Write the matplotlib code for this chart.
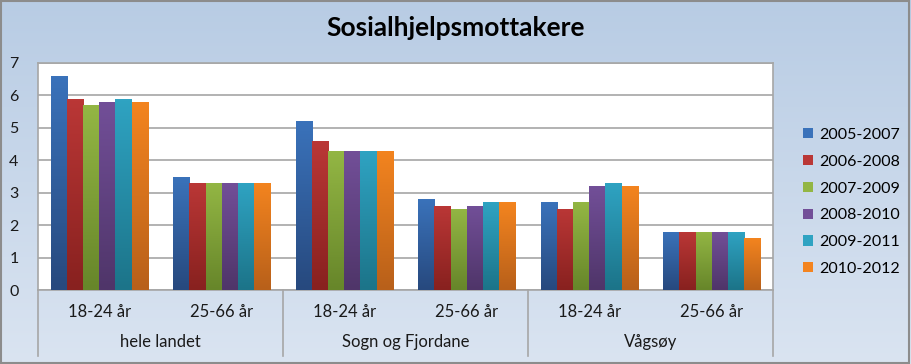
import numpy as np
import matplotlib
matplotlib.use("Agg")
import matplotlib.pyplot as plt
from matplotlib.colors import LinearSegmentedColormap

title = "Sosialhjelpsmottakere"
age_groups = ["18-24 år", "25-66 år", "18-24 år", "25-66 år", "18-24 år", "25-66 år"]
regions = ["hele landet", "Sogn og Fjordane", "Vågsøy"]
periods = ["2005-2007", "2006-2008", "2007-2009", "2008-2010", "2009-2011", "2010-2012"]

v_2005_2007 = [6.6, 3.5, 5.2, 2.8, 2.7, 1.8]
v_2006_2008 = [5.9, 3.3, 4.6, 2.6, 2.5, 1.8]
v_2007_2009 = [5.7, 3.3, 4.3, 2.5, 2.7, 1.8]
v_2008_2010 = [5.8, 3.3, 4.3, 2.6, 3.2, 1.8]
v_2009_2011 = [5.9, 3.3, 4.3, 2.7, 3.3, 1.8]
v_2010_2012 = [5.8, 3.3, 4.3, 2.7, 3.2, 1.6]
series = [v_2005_2007, v_2006_2008, v_2007_2009, v_2008_2010, v_2009_2011, v_2010_2012]

# (top colour, bottom colour) for each series
colors = [("#3A72BA", "#27497E"), ("#BA3736", "#88211F"), ("#93B644", "#67862A"),
          ("#724F98", "#4F3569"), ("#2FA3C2", "#1C7489"), ("#F3841F", "#B8601A")]

plt.rcParams['font.family'] = ['Lato', 'DejaVu Sans']

fig = plt.figure(figsize=(9.11, 3.64), dpi=100)

# background gradient
bg = fig.add_axes([0, 0, 1, 1], zorder=-10)
bg_cmap = LinearSegmentedColormap.from_list("bg", ["#DAE4F1", "#B8CCE4"])
bg.imshow(np.linspace(0, 1, 256).reshape(-1, 1), cmap=bg_cmap, aspect="auto",
          extent=[0, 1, 0, 1], origin="lower")
bg.set_axis_off()
fig.patches.append(plt.Rectangle((0.001, 0.003), 0.997, 0.994, transform=fig.transFigure,
                                 fill=False, edgecolor="#8C8C8C", linewidth=1.5))

ax = fig.add_axes([38 / 911, 74 / 364, 735 / 911, 227 / 364])
ax.set_facecolor("white")

x = np.arange(len(age_groups))
n = len(series)
w = 0.132
handles = []
for i, vals in enumerate(series):
    pos = x + (i - (n - 1) / 2) * w
    bars = ax.bar(pos, vals, w, color=colors[i][0], label=periods[i], zorder=3)
    handles.append(bars[0])
    cmap = LinearSegmentedColormap.from_list("c%d" % i, [colors[i][1], colors[i][0]])
    for b in bars:
        x0 = b.get_x()
        h = b.get_height()
        im = ax.imshow(np.linspace(0, 1, 64).reshape(-1, 1), cmap=cmap, aspect="auto",
                       extent=[x0, x0 + w, 0, h], origin="lower", zorder=4)
        im.set_clip_path(b)

ax.set_xlim(-0.5, len(age_groups) - 0.5)
ax.set_ylim(0, 7)
ax.set_yticks(range(0, 8))
ax.tick_params(axis="y", length=0, pad=14, labelsize=11.5, colors="#1a1a1a")
ax.set_xticks([])
ax.grid(axis="y", color="#A6A6A6", linewidth=1.2, zorder=0)
ax.set_axisbelow(True)
for s in ax.spines.values():
    s.set_color("#A6A6A6")
    s.set_linewidth(1.2)

for xi, lab in zip(x, age_groups):
    ax.text(xi, -0.097, lab, transform=ax.get_xaxis_transform(), ha="center", va="center",
            fontsize=12, color="#1a1a1a")
for k, reg in enumerate(regions):
    ax.text(2 * k + 0.5, -0.229, reg, transform=ax.get_xaxis_transform(), ha="center",
            va="center", fontsize=12, color="#1a1a1a")
for xs in [-0.5, 1.5, 3.5, 5.5]:
    ax.plot([xs, xs], [0, -0.29], transform=ax.get_xaxis_transform(), color="#A6A6A6",
            linewidth=1.2, clip_on=False)

fig.text(456 / 911, 1 - 28 / 364, title, ha="center", va="center", fontsize=19,
         fontweight="bold", color="black")

leg = fig.legend(handles, periods, loc="center left", bbox_to_anchor=(789 / 911, 1 - 202 / 364),
                 frameon=False, fontsize=11.5, handlelength=0.6, handleheight=0.6,
                 handletextpad=0.4, labelspacing=0.8)

fig.savefig("out.png", dpi=100)
